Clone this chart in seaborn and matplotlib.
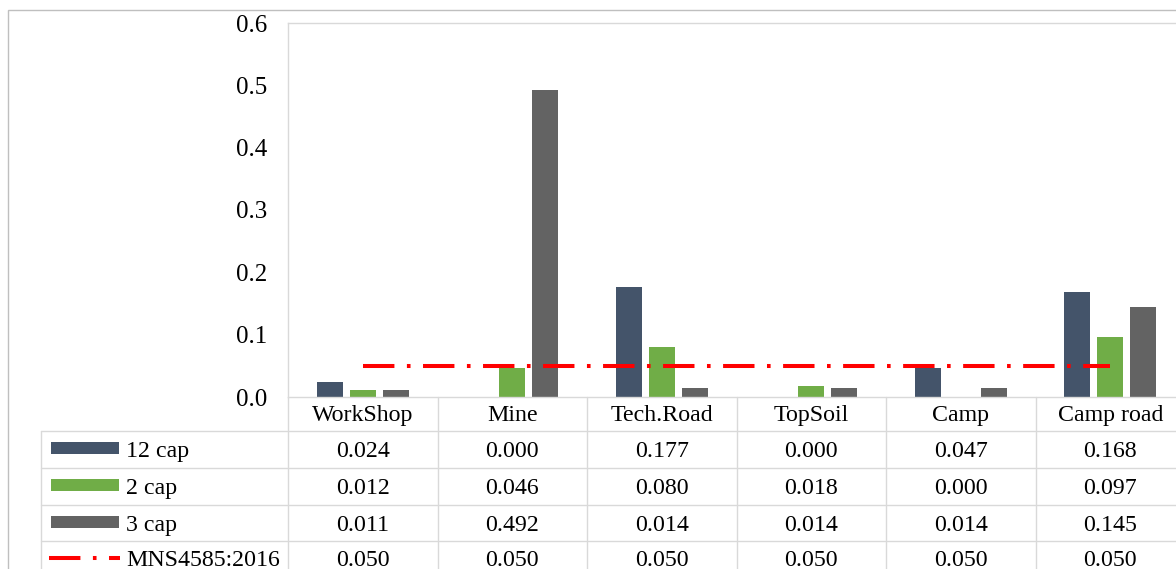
import numpy as np
import pandas as pd
import matplotlib
matplotlib.use('Agg')
import matplotlib.pyplot as plt
import matplotlib.transforms as mtransforms
from matplotlib.lines import Line2D
from matplotlib.patches import Rectangle
import seaborn as sns

categories = ['WorkShop', 'Mine', 'Tech.Road', 'TopSoil', 'Camp', 'Camp road']
cap12 = [0.024, 0.000, 0.177, 0.000, 0.047, 0.168]
cap2 = [0.012, 0.046, 0.080, 0.018, 0.000, 0.097]
cap3 = [0.011, 0.492, 0.014, 0.014, 0.014, 0.145]
mns_limit = [0.050, 0.050, 0.050, 0.050, 0.050, 0.050]
series_names = ['12 cap', '2 cap', '3 cap']
limit_name = 'MNS4585:2016'
yticks = [0.0, 0.1, 0.2, 0.3, 0.4, 0.5, 0.6]

bar_colors = ['#44546A', '#70AD47', '#636363']
line_color = '#FF0000'
grid_col = '#d9d9d9'

df = pd.DataFrame({
    'site': categories * 3,
    'value': cap12 + cap2 + cap3,
    'series': [s for s in series_names for _ in categories],
})

sns.set_style('white')
plt.rcParams['font.family'] = ['Liberation Serif', 'DejaVu Serif']
plt.rcParams['text.color'] = 'black'
plt.rcParams['ytick.color'] = 'black'

W, H = 1176, 569
fig = plt.figure(figsize=(W / 100, H / 100), dpi=100)

def fx(px):
    return px / W

def fy(py):
    return 1 - py / H

ax_left, ax_top, ax_bottom, col_w = 288, 23, 397, 149.5
ax = fig.add_axes([fx(ax_left), fy(ax_bottom), (col_w * 6) / W, (ax_bottom - ax_top) / H])

sns.barplot(data=df, x='site', y='value', hue='series', order=categories,
            hue_order=series_names, palette=bar_colors, saturation=1,
            width=0.66, gap=0.21, legend=False, ax=ax, edgecolor='none')

xpos = np.arange(len(categories))
ax.plot(xpos, mns_limit, color=line_color, lw=2.9, dashes=(7.8, 3.1, 0.9, 3.1),
        dash_capstyle='butt')

ax.set_xlim(-0.5, len(categories) - 0.5)
ax.set_ylim(0, 0.6)
ax.set_yticks(yticks)
ax.set_yticklabels([f'{v:.1f}' for v in yticks])
ax.set_xticks([])
ax.set_xlabel('')
ax.set_ylabel('')
ax.tick_params(axis='y', length=0, pad=15, labelsize=18, labelcolor='black')
for side in ['left', 'top', 'bottom']:
    ax.spines[side].set_color(grid_col)
    ax.spines[side].set_linewidth(1.0)
ax.spines['right'].set_visible(False)

# outer chart border (right/bottom run off the picture)
fig.add_artist(Rectangle((fx(8), -0.2), 2, fy(10) + 0.2, transform=fig.transFigure,
                         fill=False, edgecolor='#bfbfbf', lw=1.0))

# data table under the plot
blend = mtransforms.blended_transform_factory(ax.transData, fig.transFigure)
row_lines = [431, 468, 505, 541]
baselines = [421, 457, 494, 531, 566]
key_centers = [447.5, 485, 522, 558]
fs = 17.2

for i in range(len(categories) + 1):
    fig.add_artist(Line2D([i - 0.5, i - 0.5], [fy(ax_bottom), fy(H + 20)],
                          transform=blend, color=grid_col, lw=1.0))
fig.add_artist(Line2D([fx(41), fx(41)], [fy(row_lines[0]), fy(H + 20)],
                      transform=fig.transFigure, color=grid_col, lw=1.0))
for y in row_lines:
    fig.add_artist(Line2D([fx(41), 1.05], [fy(y), fy(y)],
                          transform=fig.transFigure, color=grid_col, lw=1.0))

for i, name in enumerate(categories):
    fig.text(i, fy(baselines[0]), name, transform=blend, ha='center',
             va='baseline', fontsize=fs)

table_rows = [cap12, cap2, cap3, mns_limit]
for r, vals in enumerate(table_rows):
    for i, v in enumerate(vals):
        fig.text(i, fy(baselines[r + 1]), f'{v:.3f}', transform=blend,
                 ha='center', va='baseline', fontsize=fs)

# legend keys in the first column
for r, (name, col) in enumerate(zip(series_names, bar_colors)):
    yc = key_centers[r]
    fig.add_artist(Rectangle((fx(51), fy(yc + 6)), (119 - 51) / W, 12 / H,
                             transform=fig.transFigure, color=col, lw=0))
    fig.text(fx(126), fy(baselines[r + 1]), name, ha='left', va='baseline', fontsize=fs)

yc = key_centers[3]
fig.add_artist(Line2D([fx(49), fx(120)], [fy(yc), fy(yc)], transform=fig.transFigure,
                      color=line_color, lw=2.9, dashes=(7.8, 3.1, 0.9, 3.1),
                      dash_capstyle='butt'))
fig.text(fx(126), fy(baselines[4]), limit_name, ha='left', va='baseline', fontsize=fs)

fig.savefig('out.png', dpi=100)
